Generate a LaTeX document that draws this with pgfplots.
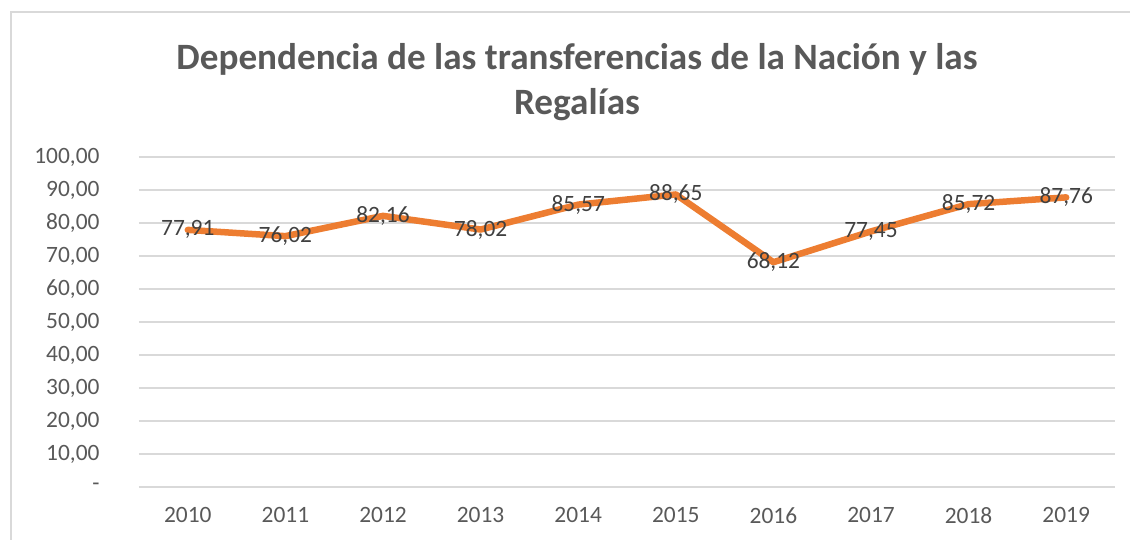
\documentclass[border=0pt]{standalone}
\usepackage{pgfplots}
\pgfplotsset{compat=1.18}
\usepackage{fontspec}
\setmainfont{Carlito}
\definecolor{lineor}{HTML}{ED7D31}
\definecolor{gridc}{HTML}{D9D9D9}
\definecolor{ticktxt}{HTML}{595959}
\definecolor{labtxt}{HTML}{404040}
\definecolor{bord}{HTML}{D9D9D9}
\begin{document}
\begin{tikzpicture}
\path[use as bounding box] (-139bp,-53bp) rectangle (991bp,487bp);
\draw[bord, line width=1.2bp] (-128bp,-60bp) -- (-128bp,475bp) -- (1000bp,475bp);
\begin{axis}[
  at={(0,0)}, anchor=south west,
  scale only axis,
  width=976bp, height=330bp,
  xmin=-0.5, xmax=9.5,
  ymin=0, ymax=100,
  axis line style={draw=none},
  major tick style={draw=none},
  xtick={0,...,9},
  xticklabels={2010,2011,2012,2013,2014,2015,2016,2017,2018,2019},
  ytick={0,10,...,100},
  yticklabels={-,{10,00},{20,00},{30,00},{40,00},{50,00},{60,00},{70,00},{80,00},{90,00},{100,00}},
  ymajorgrids,
  grid style={gridc, line width=1.3bp},
  tick label style={font=\fontsize{23.5}{28}\selectfont, text=ticktxt},
  xticklabel style={yshift=-17bp},
  yticklabel style={xshift=-36bp},
  /pgf/number format/assume math mode=true,
  nodes near coords,
  nodes near coords style={font=\fontsize{23.5}{28}\selectfont, text=labtxt, anchor=center,
     /pgf/number format/.cd, fixed, fixed zerofill, precision=2, use comma},
  clip=false,
]
\addplot[lineor, line width=6.5bp, line join=round, line cap=round] coordinates {
 (0,77.91) (1,76.02) (2,82.16) (3,78.02) (4,85.57) (5,88.65) (6,68.12) (7,77.45) (8,85.72) (9,87.76)
};
\end{axis}
\node[anchor=base, text=ticktxt, font=\fontsize{37.3}{44}\selectfont\bfseries] at (438bp,417bp) {Dependencia de las transferencias de la Nación y las};
\node[anchor=base, text=ticktxt, font=\fontsize{37.3}{44}\selectfont\bfseries] at (438bp,372bp) {Regalías};
\end{tikzpicture}
\end{document}
